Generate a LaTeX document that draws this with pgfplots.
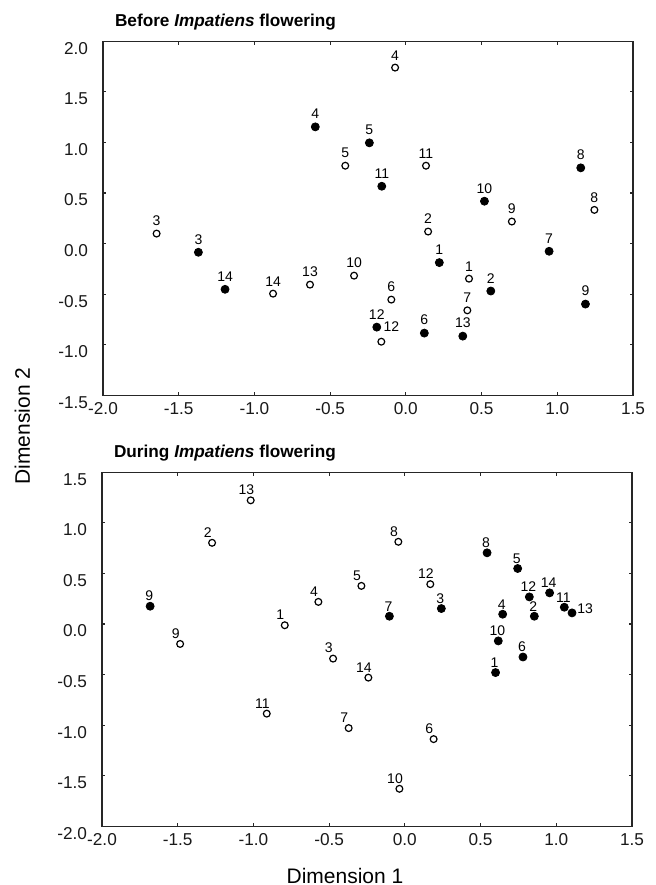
\documentclass[border=0pt]{standalone}
\usepackage{fontspec}
\setmainfont{Liberation Sans}
\usepackage{pgfplots}
\usepackage{pgfplotstable}
\pgfplotsset{compat=1.18}

\pgfplotstableread{
x y lab
0.221 -0.188 1
0.561 -0.469 2
-1.370 -0.086 3
-0.598 1.154 4
-0.241 0.996 5
0.122 -0.885 6
0.946 -0.076 7
1.155 0.749 8
1.186 -0.598 9
0.519 0.419 10
-0.159 0.567 11
-0.192 -0.826 12
0.376 -0.915 13
-1.194 -0.452 14
}\beforeFilled

\pgfplotstableread{
x y lab
0.417 -0.347 1
0.147 0.119 2
-1.646 0.099 3
-0.071 1.740 4
-0.400 0.770 5
-0.096 -0.554 6
0.406 -0.660 7
1.245 0.333 8
0.700 0.218 9
-0.342 -0.317 10
0.133 0.770 11
-0.633 -0.406 13
-0.877 -0.495 14
}\beforeOpen

\pgfplotstableread{
x y lab
-0.162 -0.970 12
}\beforeOpenB

\pgfplotstableread{
x y lab
0.599 -0.480 1
0.855 0.077 2
0.241 0.153 3
0.646 0.097 4
0.745 0.549 5
0.780 -0.326 6
-0.102 0.077 7
0.543 0.704 8
-1.682 0.176 9
0.617 -0.167 10
1.053 0.166 11
0.822 0.268 12
0.956 0.308 14
}\duringFilled

\pgfplotstableread{
x y lab
1.104 0.110 13
}\duringFilledB

\pgfplotstableread{
x y lab
-0.793 -0.012 1
-1.273 0.803 2
-0.474 -0.342 3
-0.571 0.219 4
-0.287 0.377 5
0.190 -1.138 6
-0.371 -1.029 7
-0.043 0.813 8
-1.484 -0.197 9
-0.036 -1.629 10
-0.912 -0.886 11
0.168 0.394 12
-1.018 1.223 13
-0.241 -0.530 14
}\duringOpen

\pgfplotsset{
  mdsaxis/.style={
    scale only axis, width=265pt, height=177pt,
    xmin=-2, xmax=1.5,
    xtick={-2,-1.5,-1,-0.5,0,0.5,1,1.5},
    tick align=inside, major tick length=1.6pt,
    axis line style={line width=0.7pt, black!85},
    every tick/.style={black!85, line width=0.6pt},
    tick label style={font=\fontsize{8.6}{10}\selectfont, black!90},
    /pgf/number format/.cd, fixed, fixed zerofill, precision=1, assume math mode=true,
    /pgfplots/.cd,
    yticklabel style={xshift=-4pt, yshift=-3.5pt},
    every axis title/.style={at={(0,1)}, anchor=base west, xshift=2.5pt, yshift=7.2pt,
      font=\bfseries\fontsize{8.6}{10}\selectfont},
    clip=false,
  },
  ptlabels/.style n args={3}{
    point meta=explicit symbolic,
    nodes near coords,
    every node near coord/.style={font=\fontsize{7}{8}\selectfont, black, inner sep=0pt,
      anchor=#1, xshift=#2, yshift=#3},
  },
  filledpts/.style={only marks, mark=*, mark size=2pt, mark options={fill=black, draw=black}},
  openpts/.style={only marks, mark=o, mark size=1.7pt, mark options={draw=black, line width=0.6pt, fill=white}},
}

\begin{document}
\begin{tikzpicture}
\useasboundingbox (-51.5pt,-421.85pt) rectangle (276pt,20.65pt);
\begin{axis}[mdsaxis, at={(0,0)}, anchor=north west,
  ymin=-1.5, ymax=2, ytick={-1.5,-1,-0.5,0,0.5,1,1.5,2},
  title={Before \textit{Impatiens} flowering}]
\addplot[filledpts, ptlabels={south}{0pt}{3.8pt}] table[x=x, y=y, meta=lab] {\beforeFilled};
\addplot[openpts, ptlabels={south}{0pt}{3.5pt}] table[x=x, y=y, meta=lab] {\beforeOpen};
\addplot[openpts, ptlabels={south}{5pt}{5pt}] table[x=x, y=y, meta=lab] {\beforeOpenB};
\end{axis}
\begin{axis}[mdsaxis, at={(-0.5pt,-215.5pt)}, anchor=north west,
  ymin=-2, ymax=1.5, ytick={-2,-1.5,-1,-0.5,0,0.5,1,1.5},
  title={During \textit{Impatiens} flowering}]
\addplot[filledpts, ptlabels={south}{-0.5pt}{2.4pt}] table[x=x, y=y, meta=lab] {\duringFilled};
\addplot[filledpts, ptlabels={west}{2.5pt}{2pt}] table[x=x, y=y, meta=lab] {\duringFilledB};
\addplot[openpts, ptlabels={south}{-2.2pt}{2.5pt}] table[x=x, y=y, meta=lab] {\duringOpen};
\end{axis}
\node[rotate=90, anchor=base, font=\fontsize{10.5}{12}\selectfont] at (-36.5pt,-192.35pt) {Dimension 2};
\node[anchor=base, font=\fontsize{10.5}{12}\selectfont] at (121pt,-420.85pt) {Dimension 1};
\end{tikzpicture}
\end{document}
